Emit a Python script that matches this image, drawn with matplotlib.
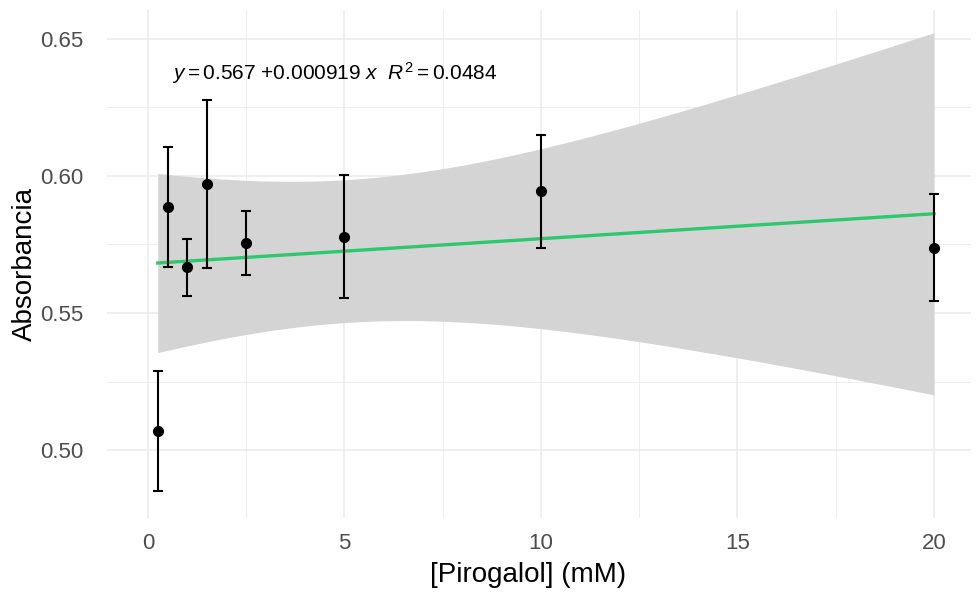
#!/usr/bin/env python3
"""Absorbancia vs [Pirogalol] — linear fit with 95% band (ggplot minimal look)."""
import numpy as np
import matplotlib

matplotlib.use("Agg")
import matplotlib.pyplot as plt
from matplotlib.ticker import MultipleLocator, FormatStrFormatter

# data (means and sd per concentration)
conc = [0.25, 0.5, 1, 1.5, 2.5, 5, 10, 20]
absorb = [0.507, 0.5887, 0.5667, 0.5972, 0.5755, 0.5778, 0.5944, 0.5739]
sd = [0.022, 0.022, 0.0104, 0.0306, 0.0116, 0.0225, 0.0205, 0.0195]
eq_label = r"$y = 0.567\ {+}0.000919\ x\ \ R^2 = 0.0484$"

T_CRIT = 2.4469  # t(0.975, df = 6)

GREEN = "#2DC76D"
BAND = "#D4D4D4"
GRID = "#EBEBEB"
TICK = "#4D4D4D"

plt.rcParams["font.family"] = ["Liberation Sans", "DejaVu Sans"]
plt.rcParams["mathtext.fontset"] = "custom"
plt.rcParams["mathtext.rm"] = "Liberation Sans"
plt.rcParams["mathtext.it"] = "Liberation Sans:italic"


def fit_band(x, y, n_pts=80):
    x = np.asarray(x, float)
    y = np.asarray(y, float)
    b, a = np.polyfit(x, y, 1)
    resid = y - (a + b * x)
    s = np.sqrt(np.sum(resid ** 2) / (len(x) - 2))
    sxx = np.sum((x - x.mean()) ** 2)
    xs = np.linspace(x.min(), x.max(), n_pts)
    ys = a + b * xs
    se = s * np.sqrt(1 / len(x) + (xs - x.mean()) ** 2 / sxx)
    return xs, ys, ys - T_CRIT * se, ys + T_CRIT * se


def main():
    fig = plt.figure(figsize=(9.76, 5.96), dpi=100)
    ax = fig.add_axes([0.1093, 0.1309, 0.8859, 0.852])

    xs, ys, lo, hi = fit_band(conc, absorb)
    ax.fill_between(xs, lo, hi, color=BAND, linewidth=0, zorder=2)
    ax.plot(xs, ys, color=GREEN, linewidth=2.4, zorder=3)
    ax.errorbar(conc, absorb, yerr=sd, fmt="o", color="black", ms=7,
                elinewidth=1.5, capsize=3.5, capthick=1.5, zorder=4)

    ax.text(0.6, 0.6375, eq_label, fontsize=15, ha="left", va="center",
            color="black", zorder=5)

    ax.set_xlim(-1.05, 20.95)
    ax.set_ylim(0.4752, 0.6605)
    ax.xaxis.set_major_locator(MultipleLocator(5))
    ax.xaxis.set_minor_locator(MultipleLocator(2.5))
    ax.yaxis.set_major_locator(MultipleLocator(0.05))
    ax.yaxis.set_minor_locator(MultipleLocator(0.025))
    ax.yaxis.set_major_formatter(FormatStrFormatter("%.2f"))

    ax.grid(True, which="major", color=GRID, linewidth=1.1, zorder=0)
    ax.grid(True, which="minor", color=GRID, linewidth=0.6, zorder=0)
    ax.set_axisbelow(True)
    for s in ax.spines.values():
        s.set_visible(False)
    ax.tick_params(which="both", length=0, labelsize=16, labelcolor=TICK)
    ax.tick_params(axis="x", pad=11)
    ax.tick_params(axis="y", pad=17)

    ax.set_xlabel("[Pirogalol] (mM)", fontsize=20, color="black")
    ax.set_ylabel("Absorbancia", fontsize=20, color="black")
    ax.xaxis.set_label_coords(0.487, -0.0866)
    ax.yaxis.set_label_coords(-0.0795, 0.5)

    fig.savefig("out.png", dpi=100, facecolor="white")
    plt.close(fig)


if __name__ == "__main__":
    main()
